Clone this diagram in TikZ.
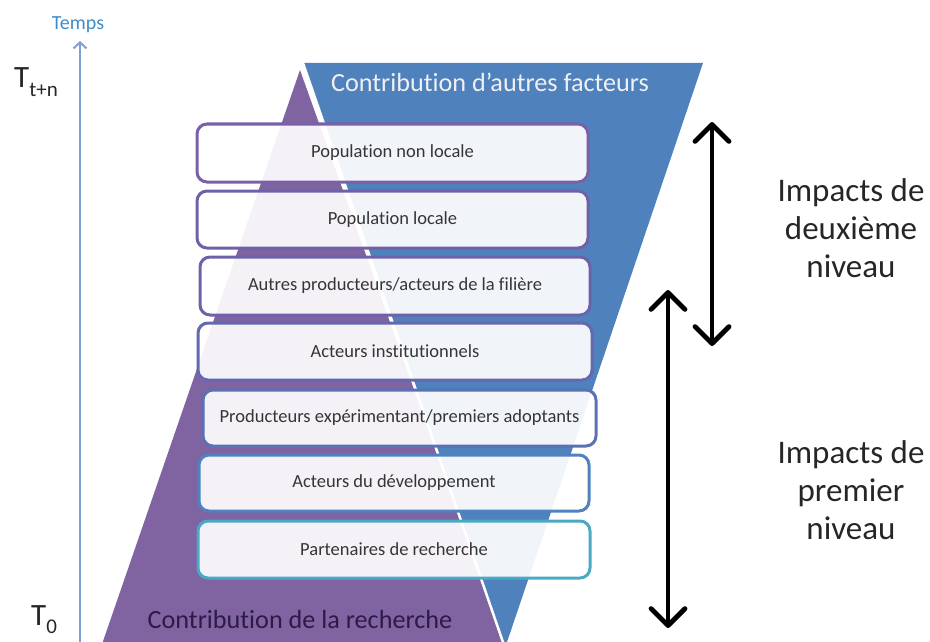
\documentclass[tikz,border=0pt]{standalone}
\usepackage{fontspec}
\setmainfont{Carlito}[Ligatures=NoCommon]
\usetikzlibrary{arrows.meta}
\definecolor{purp}{HTML}{8064A2}
\definecolor{blu}{HTML}{4F81BD}
\definecolor{axisc}{HTML}{7E9ED4}
\definecolor{tempsc}{HTML}{3D8CC8}
\definecolor{boxtext}{HTML}{353535}
\definecolor{toptext}{HTML}{F0F0F0}
\definecolor{bottext}{HTML}{2C1A47}
\definecolor{bc1}{HTML}{7A60A8}
\definecolor{bc2}{HTML}{7060A9}
\definecolor{bc3}{HTML}{6C62AB}
\definecolor{bc4}{HTML}{6468AE}
\definecolor{bc5}{HTML}{5A72B4}
\definecolor{bc6}{HTML}{4F82BE}
\definecolor{bc7}{HTML}{4BA9C6}
\begin{document}
\begin{tikzpicture}[x=1pt,y=-1pt,
  box/.style={draw, line width=3pt, rounded corners=10pt, fill=white, fill opacity=0.92, text opacity=1,
    text=boxtext, font=\fontsize{18.5}{22}\selectfont, inner sep=0pt},
  bigarrow/.style={line width=4.8pt, {Straight Barb[length=17pt,width=34pt,round]}-{Straight Barb[length=17pt,width=34pt,round]}},
  sidelabel/.style={align=center, font=\fontsize{33}{38}\selectfont, text=black!85, inner sep=0pt},
  tlabel/.style={anchor=base west, inner sep=0pt, font=\fontsize{31}{34}\selectfont, text=black!85}
]
\useasboundingbox (0,0) rectangle (930,642);

% triangles
\fill[purp] (300,70) -- (100,650) -- (507,650) -- cycle;
\fill[blu] (303,63) -- (703,63) -- (505,648) -- cycle;
\draw[white, line width=2.5pt] (303,63) -- (505,648);

\node[anchor=base, inner sep=0pt, text=toptext, font=\fontsize{26.2}{30}\selectfont] (caf) at (490,92) {Contribution d’autres facteurs};
\node[anchor=base, inner sep=0pt, text=bottext, font=\fontsize{26.2}{30}\selectfont] (cdr) at (300,628) {Contribution de la recherche};

% boxes
\node[box, draw=bc1, minimum width=391pt, minimum height=58pt] (b1) at (392.5,153) {Population non locale};
\node[box, draw=bc2, minimum width=391pt, minimum height=57pt] (b2) at (392.5,219.5) {Population locale};
\node[box, draw=bc3, minimum width=390pt, minimum height=58pt] (b3) at (395,286) {Autres producteurs/acteurs de la filière};
\node[box, draw=bc4, minimum width=394pt, minimum height=57pt] (b4) at (395,351.5) {Acteurs institutionnels};
\node[box, draw=bc5, minimum width=393pt, minimum height=56pt] (b5) at (399.5,418) {Producteurs expérimentant/premiers adoptants};
\node[box, draw=bc6, minimum width=390pt, minimum height=56pt] (b6) at (394,483) {Acteurs du développement};
\node[box, draw=bc7, minimum width=392pt, minimum height=57pt] (b7) at (394,549.5) {Partenaires de recherche};

% time axis
\coordinate (ax0) at (80,645);
\coordinate (ax1) at (80,41);
\draw[axisc, line width=2pt, -{Straight Barb[length=6pt,width=13pt]}] (ax0) -- (ax1);
\node[anchor=base, inner sep=0pt, text=tempsc, font=\fontsize{20}{24}\selectfont] (temps) at (78,30) {Temps};
\node[tlabel] (ttn) at (14,88) {T\raisebox{-9pt}{\fontsize{21}{21}\selectfont t+n}};
\node[tlabel] (t0) at (31,625) {T\raisebox{-8pt}{\fontsize{21}{21}\selectfont 0}};

% impact arrows
\coordinate (a1t) at (712,122);
\coordinate (a1b) at (712,346);
\coordinate (a2t) at (668,290);
\coordinate (a2b) at (668,628);
\draw[bigarrow] (a1t) -- (a1b);
\draw[bigarrow] (a2t) -- (a2b);

\node[sidelabel] (imp2) at (851,228) {Impacts de\\deuxième\\niveau};
\node[sidelabel] (imp1) at (851,490) {Impacts de\\premier\\niveau};
\end{tikzpicture}
\end{document}
